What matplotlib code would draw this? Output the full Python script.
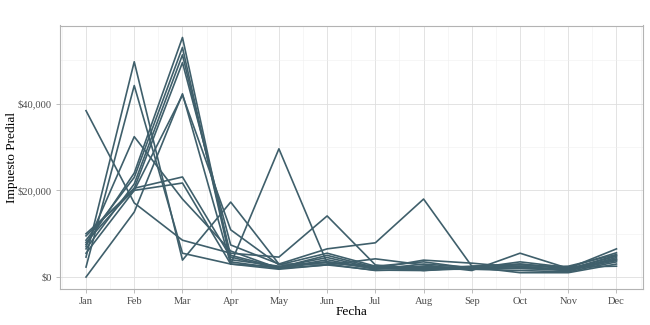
import numpy as np
import matplotlib
matplotlib.use("Agg")
import matplotlib.pyplot as plt
from matplotlib.ticker import FuncFormatter, MultipleLocator

plt.rcParams["font.family"] = ["Liberation Serif", "DejaVu Serif"]

# Meses y recaudación mensual de impuesto predial (una serie por línea)
meses = ["Jan", "Feb", "Mar", "Apr", "May", "Jun", "Jul", "Aug", "Sep", "Oct", "Nov", "Dec"]

serie_01 = [7500, 24000, 55300, 4000, 2500, 3500, 2000, 2500, 2000, 2500, 1500, 4500]
serie_02 = [8500, 23000, 53000, 3500, 2000, 4000, 1800, 3000, 2200, 2000, 1800, 5000]
serie_03 = [6500, 21500, 51300, 5000, 2200, 5000, 2200, 2000, 2500, 3000, 2000, 4000]
serie_04 = [9500, 20500, 49500, 7400, 3000, 3000, 1500, 1800, 1800, 1500, 1200, 3500]
serie_05 = [5500, 20000, 42000, 10900, 2800, 5500, 2500, 3500, 2000, 3500, 2200, 5600]
serie_06 = [0, 15000, 42300, 3000, 1800, 2800, 1600, 1500, 2300, 1000, 1000, 3000]
serie_07 = [4600, 49700, 3900, 17300, 3000, 6500, 7900, 18000, 2500, 2800, 2300, 2500]
serie_08 = [2300, 44200, 5500, 3000, 29600, 3200, 2500, 2200, 2000, 2500, 1500, 4200]
serie_09 = [38400, 17100, 8500, 5500, 4600, 14100, 2800, 1500, 2000, 2000, 1500, 3800]
serie_10 = [7000, 32400, 18000, 6000, 2000, 2800, 4200, 2800, 1500, 5500, 2000, 6500]
serie_11 = [8000, 20500, 23100, 4600, 2000, 3500, 2000, 3900, 3200, 2200, 2500, 5200]
serie_12 = [10000, 20000, 21700, 3000, 2300, 4500, 2000, 2000, 1800, 3000, 1800, 4800]

series = [serie_01, serie_02, serie_03, serie_04, serie_05, serie_06,
          serie_07, serie_08, serie_09, serie_10, serie_11, serie_12]

color_linea = "#3f5f6b"
x = np.arange(len(meses))

fig = plt.figure(figsize=(6.5, 3.25), dpi=100)
ax = fig.add_axes([59.5 / 650, 36 / 325, (643 - 59.5) / 650, (289 - 25.5) / 325])

for s in series:
    ax.plot(x, s, color=color_linea, linewidth=1.2)

# Escalas con la expansión por defecto (5%)
todos = np.concatenate([np.array(s) for s in series])
ymin, ymax = todos.min(), todos.max()
pad = (ymax - ymin) * 0.05
ax.set_ylim(ymin - pad, ymax + pad)
ax.set_xlim(-0.55, len(meses) - 1 + 0.55)

ax.set_xticks(x)
ax.set_xticklabels(meses)
ax.xaxis.set_minor_locator(MultipleLocator(0.5))
ax.yaxis.set_major_locator(MultipleLocator(20000))
ax.yaxis.set_minor_locator(MultipleLocator(10000))
ax.yaxis.set_major_formatter(FuncFormatter(lambda v, p: "${:,.0f}".format(v)))

ax.grid(True, which="major", color="#dedede", linewidth=0.6)
ax.grid(True, which="minor", color="#efefef", linewidth=0.4)
ax.set_axisbelow(True)

for sp in ax.spines.values():
    sp.set_color("#b3b3b3")
    sp.set_linewidth(0.8)

ax.tick_params(which="major", length=3, width=0.6, color="#b3b3b3",
               labelsize=7.6, labelcolor="#4d4d4d", pad=2.5)
ax.tick_params(which="minor", length=0)

ax.set_xlabel("Fecha", fontsize=9.6, va="center")
ax.set_ylabel("Impuesto Predial", fontsize=9.6, va="center")
ax.xaxis.set_label_coords(0.5, (289 - 312) / 263.5)
ax.yaxis.set_label_coords((12 - 59.5) / 583.5, 0.5)

fig.savefig("out.png", dpi=100)
